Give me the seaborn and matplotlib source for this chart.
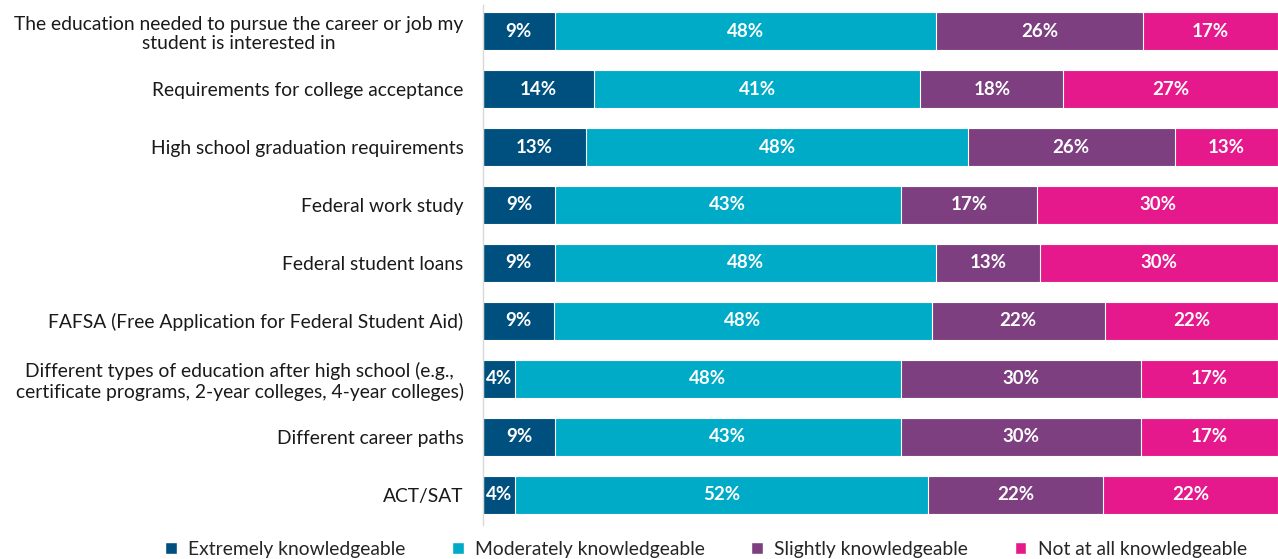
import numpy as np
import pandas as pd
import matplotlib
matplotlib.use("Agg")
import matplotlib.pyplot as plt
from matplotlib.patches import Patch
import seaborn as sns

# survey items (top to bottom)
items = [
    "The education needed to pursue the career or job my\nstudent is interested in",
    "Requirements for college acceptance",
    "High school graduation requirements",
    "Federal work study",
    "Federal student loans",
    "FAFSA (Free Application for Federal Student Aid)",
    "Different types of education after high school (e.g.,\ncertificate programs, 2-year colleges, 4-year colleges)",
    "Different career paths",
    "ACT/SAT",
]
levels = ["Extremely knowledgeable", "Moderately knowledgeable",
          "Slightly knowledgeable", "Not at all knowledgeable"]
extremely = [9, 14, 13, 9, 9, 9, 4, 9, 4]
moderately = [48, 41, 48, 43, 48, 48, 48, 43, 52]
slightly = [26, 18, 26, 17, 13, 22, 30, 30, 22]
not_at_all = [17, 27, 13, 30, 30, 22, 17, 17, 22]
colors = ["#00507F", "#00ABC8", "#7D3F80", "#E5198C"]

sns.set_style("white")
plt.rcParams["font.family"] = ["Lato", "DejaVu Sans"]

vals = np.array([extremely, moderately, slightly, not_at_all], dtype=float).T
shares = vals / vals.sum(axis=1, keepdims=True) * 100  # rows add to 99-101 after rounding
cum = np.cumsum(shares, axis=1)

fig = plt.figure(figsize=(12.78, 5.59), dpi=100)
ax = fig.add_axes([483 / 1278, 34 / 559, 1 - 483 / 1278, 520 / 559])

# stacked bars: draw the longest cumulative bar first, shorter ones on top
for k in range(3, -1, -1):
    df = pd.DataFrame({"item": items, "value": cum[:, k]})
    sns.barplot(data=df, x="value", y="item", color=colors[k], width=0.66,
                edgecolor="white", linewidth=0.8, saturation=1, ax=ax)

for i in range(len(items)):
    for k in range(4):
        mid = cum[i, k] - shares[i, k] / 2
        ax.text(mid, i, f"{int(vals[i, k])}%", ha="center", va="center",
                color="white", fontsize=13.5, fontweight="bold")

ax.set_xlim(0, 100)
ax.set_ylim(8.52, -0.45)
ax.set_xlabel("")
ax.set_ylabel("")
ax.set_xticks([])
ax.tick_params(axis="y", length=0, pad=14, labelsize=13.9, colors="#1a1a1a")
for lbl in ax.get_yticklabels():
    lbl.set_horizontalalignment("right")
    lbl.set_multialignment("center")
    lbl.set_linespacing(1.15)
for side in ["top", "right", "bottom"]:
    ax.spines[side].set_visible(False)
ax.spines["left"].set_color("#D9D9D9")
ax.spines["left"].set_linewidth(1)

handles = [Patch(facecolor=c, label=l) for c, l in zip(colors, levels)]
fig.legend(handles=handles, loc="center", bbox_to_anchor=(706 / 1278, 10 / 559),
           ncol=4, frameon=False, fontsize=13.9, handlelength=0.6, handleheight=0.6,
           columnspacing=2.4, handletextpad=0.6)

fig.savefig("out.png", dpi=100)
